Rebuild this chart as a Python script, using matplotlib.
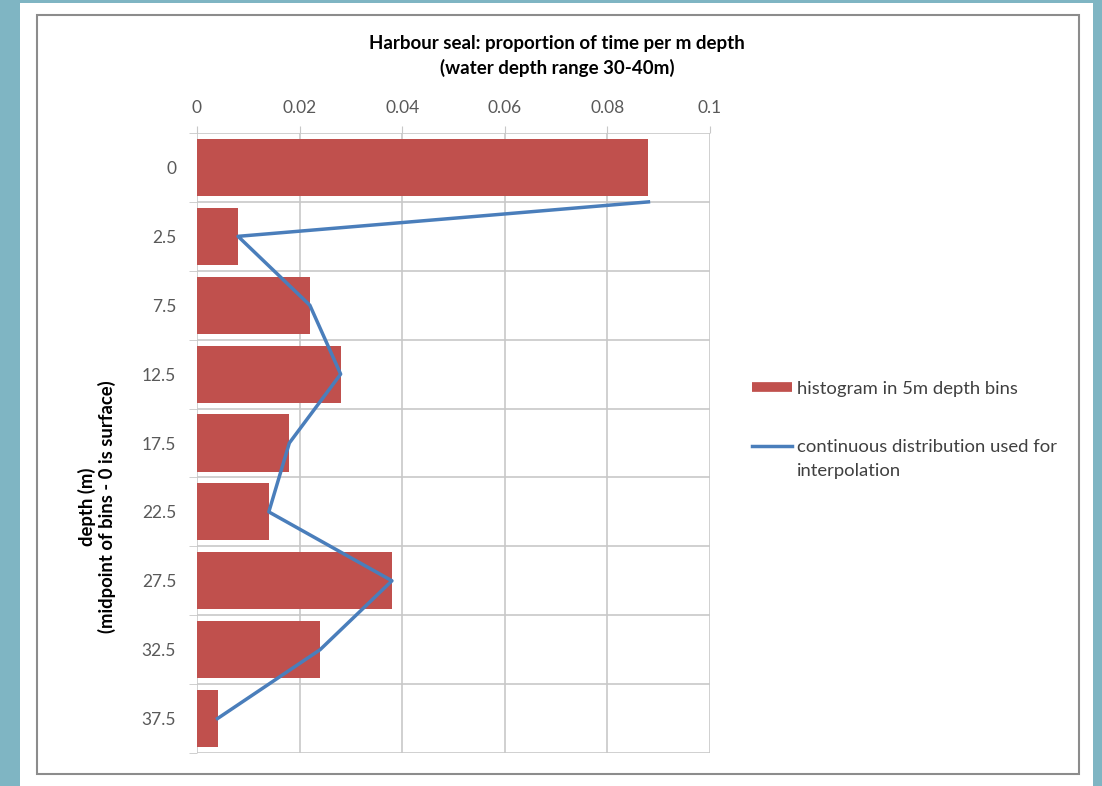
import numpy as np
import matplotlib.pyplot as plt
from matplotlib.lines import Line2D
from matplotlib.patches import Rectangle

plt.rcParams['font.family'] = ['Lato', 'DejaVu Sans']

# Data
depth_labels = ['0', '2.5', '7.5', '12.5', '17.5', '22.5', '27.5', '32.5', '37.5']
hist_vals = [0.088, 0.008, 0.022, 0.028, 0.018, 0.014, 0.038, 0.024, 0.004]
# continuous distribution (first point sits on the 0 / 2.5 boundary)
line_vals = [0.088, 0.008, 0.022, 0.028, 0.018, 0.014, 0.038, 0.024, 0.004]
x_ticks = [0, 0.02, 0.04, 0.06, 0.08, 0.1]
x_tick_labels = ['0', '0.02', '0.04', '0.06', '0.08', '0.1']

bar_col = '#c0504d'
line_col = '#4a7ebb'
grid_col = '#c8c8c8'
text_col = '#595959'

fig = plt.figure(figsize=(11.02, 7.86), dpi=100)
fig.patch.set_facecolor('#7fb5c3')

# white page and grey chart frame
fig.patches.append(Rectangle((20/1102, 0), 1073/1102, 1 - 3/786, transform=fig.transFigure,
                             facecolor='white', edgecolor='none', zorder=0))
fig.patches.append(Rectangle((37/1102, 1 - 774/786), 1042/1102, 759/786, transform=fig.transFigure,
                             facecolor='none', edgecolor='#8c8c8c', lw=1.5, zorder=1))

ax = fig.add_axes([197/1102, 1 - 753/786, 513/1102, 620/786])
ax.set_zorder(3)
ax.set_facecolor('none')

pos = np.arange(len(depth_labels))
line_pos = np.concatenate([[0.5], pos[1:]])

ax.barh(pos, hist_vals, height=0.83, color=bar_col, zorder=3)
ax.plot(line_vals, line_pos, color=line_col, lw=2.5, zorder=4)

ax.set_xlim(0, 0.1)
ax.set_ylim(len(depth_labels) - 0.5, -0.5)

# gridlines
for xv in x_ticks:
    ax.axvline(xv, color=grid_col, lw=1.2, zorder=1)
for yb in np.arange(-0.5, len(depth_labels), 1.0):
    ax.axhline(yb, color=grid_col, lw=1.2, zorder=1)

for s in ax.spines.values():
    s.set_visible(False)

ax.xaxis.tick_top()
ax.set_xticks(x_ticks)
ax.set_xticklabels(x_tick_labels)
ax.tick_params(axis='x', length=5, color=grid_col, labelcolor=text_col, labelsize=12.5, pad=7)

ax.set_yticks(pos)
ax.set_yticklabels(depth_labels)
ax.set_yticks(np.arange(-0.5, len(depth_labels), 1.0), minor=True)
ax.tick_params(axis='y', which='major', length=0, labelcolor=text_col, labelsize=12.5, pad=15)
ax.tick_params(axis='y', which='minor', length=6, color=grid_col)

fig.text(557/1102, 1 - 44/786, 'Harbour seal: proportion of time per m depth',
         ha='center', va='center', fontsize=13.5, fontweight='bold')
fig.text(557/1102, 1 - 68/786, '(water depth range 30-40m)',
         ha='center', va='center', fontsize=13.5, fontweight='bold')

fig.text(97/1102, 1 - 507/786, 'depth (m)\n(midpoint of bins - 0 is surface)',
         rotation=90, ha='center', va='center', fontsize=13.3, fontweight='bold',
         linespacing=1.1, multialignment='center')

handles = [Line2D([], [], color=bar_col, lw=7, solid_capstyle='butt'),
           Line2D([], [], color=line_col, lw=2.5)]
labels = ['histogram in 5m depth bins', 'continuous distribution used for']
leg = fig.legend(handles, labels, loc='upper left', bbox_to_anchor=(735/1102, 1 - 364/786),
                 frameon=False, fontsize=13.3, handlelength=2.2, handletextpad=0.25,
                 labelspacing=2.32, labelcolor='#404040')

# second line of the blue entry, hung under its first line
fig.canvas.draw()
bb = leg.get_texts()[1].get_window_extent(fig.canvas.get_renderer())
fig.text(bb.x0 / fig.bbox.width, (bb.y0 - 24) / fig.bbox.height, 'interpolation',
         ha='left', va='bottom', fontsize=13.3, color='#404040')

fig.savefig('out.png', dpi=100, facecolor=fig.get_facecolor())
